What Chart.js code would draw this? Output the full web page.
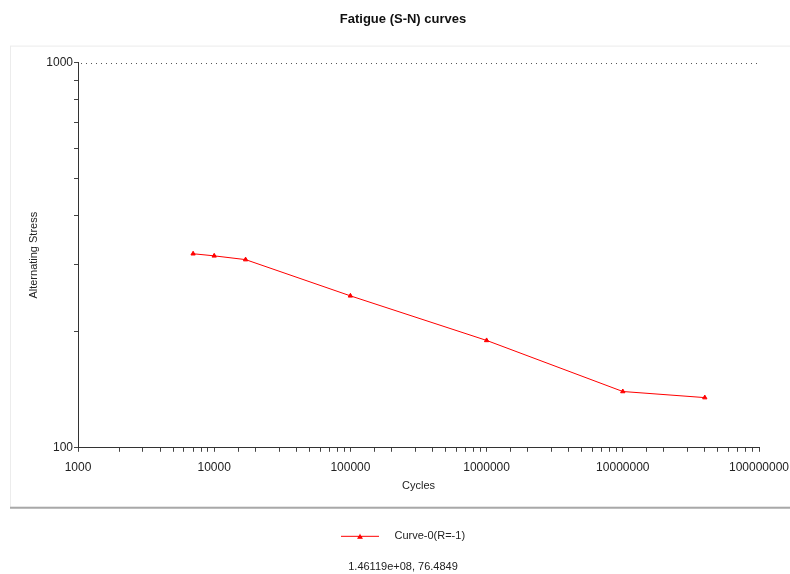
<!DOCTYPE html>
<html>
<head>
<meta charset="utf-8">
<script src="https://cdn.jsdelivr.net/npm/chart.js@4.4.1/dist/chart.umd.min.js"></script>
<style>
    html, body { margin: 0; padding: 0; background: #fff; }
    #wrap { width: 790px; height: 574px; }
</style>
</head>
<body>
<div id="wrap"><canvas id="snChart"></canvas></div>
<script>
// S-N curve data
const cycles = [7000, 10000, 17000, 100000, 1000000, 10000000, 40000000];
const stress = [319, 315, 308, 248, 190, 140, 135];
const seriesName = "Curve-0(R=-1)";
const cursorText = "1.46119e+08, 76.4849";
const yTickValues = [100, 200, 300, 400, 500, 600, 700, 800, 900, 1000];
const yLabelTicks = [100, 1000];

const RED = "#ff0000";
const FONT = "'Liberation Sans', Arial, sans-serif";

// legend sample: short red line with a triangle in the middle
function makeLegendSample() {
    const c = document.createElement("canvas");
    c.width = 48;
    c.height = 7;
    const g = c.getContext("2d");
    g.strokeStyle = RED;
    g.lineWidth = 1;
    g.beginPath();
    g.moveTo(0, 3.5);
    g.lineTo(38, 3.5);
    g.stroke();
    g.fillStyle = RED;
    g.beginPath();
    g.moveTo(19, 1);
    g.lineTo(22, 6);
    g.lineTo(16, 6);
    g.closePath();
    g.fill();
    return c;
}
const legendSample = makeLegendSample();

function isDecade(v) {
    const l = Math.log10(v);
    return Math.abs(l - Math.round(l)) < 1e-9;
}

// panel behind the plot + dotted line at the top decade
const panelPlugin = {
    id: "panel",
    beforeDraw(chart) {
        const { ctx, chartArea, scales } = chart;
        const top = chartArea.top - 17;
        const bottom = scales.x.bottom - 14;
        ctx.save();
        ctx.fillStyle = "#fff";
        ctx.fillRect(0, 0, chart.width, chart.height);
        ctx.strokeStyle = "#ececec";
        ctx.lineWidth = 1;
        ctx.strokeRect(10.5, top + 0.5, chart.width + 20, bottom - top);
        ctx.strokeStyle = "#a8a8a8";
        ctx.lineWidth = 2;
        ctx.beginPath();
        ctx.moveTo(10, bottom + 1);
        ctx.lineTo(chart.width, bottom + 1);
        ctx.stroke();
        ctx.restore();
    },
    beforeDatasetsDraw(chart) {
        const { ctx, chartArea, scales } = chart;
        const y = Math.round(scales.y.getPixelForValue(1000)) + 0.5;
        ctx.save();
        ctx.strokeStyle = "#555";
        ctx.lineWidth = 1;
        ctx.setLineDash([1, 4]);
        ctx.beginPath();
        ctx.moveTo(chartArea.left + 3, y);
        ctx.lineTo(chartArea.right, y);
        ctx.stroke();
        ctx.restore();
    },
};

const ctx = document.getElementById("snChart").getContext("2d");

new Chart(ctx, {
    type: "line",
    data: {
        datasets: [
            {
                label: seriesName,
                data: cycles.map((n, i) => ({ x: n, y: stress[i] })),
                borderColor: RED,
                backgroundColor: RED,
                borderWidth: 1,
                pointStyle: "triangle",
                pointRadius: 2.5,
                pointBackgroundColor: RED,
                pointBorderColor: RED,
                tension: 0,
                fill: false,
            },
        ],
    },
    options: {
        responsive: true,
        maintainAspectRatio: false,
        animation: false,
        layout: {
            // left padding is larger so the legend / readout sit right of centre
            padding: { left: 47, right: 31, top: 0, bottom: 0 },
        },
        scales: {
            x: {
                type: "logarithmic",
                min: 1000,
                max: 100000000,
                afterFit: (scale) => {
                    scale.height = 73;
                    scale.paddingLeft = 0;
                    scale.paddingRight = 0;
                },
                border: { display: true, color: "#333", width: 1 },
                grid: {
                    drawOnChartArea: false,
                    drawTicks: true,
                    tickLength: 4,
                    tickColor: "#444",
                },
                ticks: {
                    autoSkip: false,
                    maxRotation: 0,
                    padding: 9,
                    color: "#222",
                    font: { family: FONT, size: 12 },
                    callback: (v) => (isDecade(v) ? String(Math.round(v)) : ""),
                },
                title: {
                    display: true,
                    text: "Cycles",
                    color: "#222",
                    font: { family: FONT, size: 11 },
                    padding: { top: 2, bottom: 28 },
                },
            },
            y: {
                type: "logarithmic",
                min: 100,
                max: 1000,
                afterBuildTicks: (scale) => {
                    scale.ticks = yTickValues.map((v) => ({ value: v, major: yLabelTicks.includes(v) }));
                },
                afterFit: (scale) => {
                    scale.width = 31;
                },
                border: { display: true, color: "#333", width: 1 },
                grid: {
                    drawOnChartArea: false,
                    tickColor: "#444",
                    tickLength: 4,
                },
                ticks: {
                    autoSkip: false,
                    padding: 1,
                    color: "#222",
                    font: { family: FONT, size: 12 },
                    callback: (v) => (yLabelTicks.includes(Math.round(v)) ? String(Math.round(v)) : ""),
                },
                title: {
                    display: true,
                    text: "Alternating Stress",
                    color: "#222",
                    font: { family: FONT, size: 11 },
                    padding: { top: -20, bottom: 4 },
                },
            },
        },
        plugins: {
            title: {
                display: true,
                text: "Fatigue (S-N) curves",
                color: "#111",
                font: { family: FONT, size: 13, weight: "bold" },
                padding: { top: 12, bottom: 35 },
            },
            subtitle: {
                display: true,
                position: "bottom",
                text: cursorText,
                color: "#222",
                font: { family: FONT, size: 11 },
                padding: { top: 9, bottom: 0 },
            },
            legend: {
                display: true,
                position: "bottom",
                labels: {
                    usePointStyle: true,
                    pointStyleWidth: 48,
                    boxHeight: 8,
                    padding: 10,
                    color: "#222",
                    font: { family: FONT, size: 11 },
                    generateLabels: (chart) =>
                        chart.data.datasets.map((ds, i) => ({
                            text: ds.label,
                            pointStyle: legendSample,
                            fillStyle: ds.borderColor,
                            strokeStyle: ds.borderColor,
                            lineWidth: 0,
                            fontColor: "#222",
                            hidden: false,
                            datasetIndex: i,
                        })),
                },
            },
            tooltip: { enabled: false },
        },
    },
    plugins: [panelPlugin],
});
</script>
</body>
</html>
